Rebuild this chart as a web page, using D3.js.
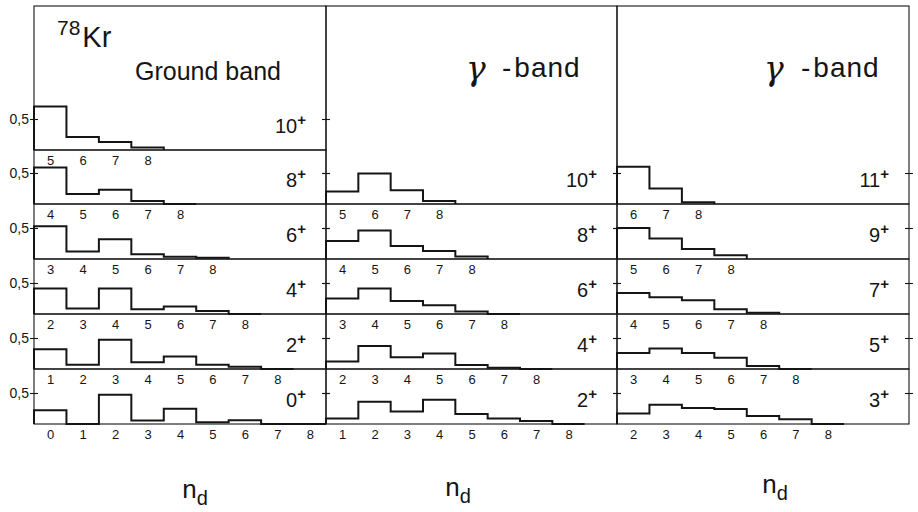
<!DOCTYPE html>
<html>
<head>
<meta charset="utf-8">
<script src="https://cdn.jsdelivr.net/npm/d3@7"></script>
<style>
  body { margin: 0; background: #fff; }
  svg { display: block; font-family: 'Liberation Sans', 'DejaVu Sans', sans-serif; }
</style>
</head>
<body>
<div class="svg-target"></div>
<script>
// Data: probability of n_d for each spin, first value belongs to n_d = start
const colTitles = ['Ground band', 'γ', 'γ'];

const groundSpins = [10, 8, 6, 4, 2, 0];
const groundStart = [5, 4, 3, 2, 1, 0];
const groundValues = [
    [0.70, 0.21, 0.13, 0.04],
    [0.59, 0.16, 0.23, 0.05, 0],
    [0.53, 0.12, 0.32, 0.075, 0.035, 0.02],
    [0.41, 0.09, 0.41, 0.075, 0.12, 0.05, 0],
    [0.32, 0.07, 0.47, 0.11, 0.20, 0.07, 0.035, 0],
    [0.22, 0, 0.47, 0.055, 0.245, 0.03, 0.06, 0, 0]
];

const gammaEvenSpins = [10, 8, 6, 4, 2];
const gammaEvenStart = [5, 4, 3, 2, 1];
const gammaEvenValues = [
    [0.20, 0.49, 0.22, 0.05],
    [0.29, 0.46, 0.21, 0.13, 0.04],
    [0.25, 0.41, 0.21, 0.14, 0.04, 0],
    [0.12, 0.37, 0.19, 0.25, 0.065, 0.02, 0],
    [0.09, 0.36, 0.20, 0.39, 0.16, 0.09, 0.05, 0]
];

const gammaOddSpins = [11, 9, 7, 5, 3];
const gammaOddStart = [6, 5, 4, 3, 2];
const gammaOddValues = [
    [0.60, 0.25, 0.03],
    [0.50, 0.33, 0.16, 0.06],
    [0.34, 0.27, 0.22, 0.075, 0.02],
    [0.26, 0.33, 0.26, 0.18, 0.05, 0],
    [0.17, 0.31, 0.26, 0.24, 0.13, 0.075, 0]
];

const ndMax = 8;
const yTick = 0.5;
const yTickLabel = '0,5';

// layout
const w = 918;
const h = 512;
const topY = 6;
const colEdges = [34, 326, 617, 909];
const rowBottoms = [150, 204, 259, 314, 369, 424];
const unitPx = 62;
const ink = '#151515';

const svg = d3.select('.svg-target')
    .append('svg')
    .attr('width', w)
    .attr('height', h);

const columns = [
    { spins: groundSpins, start: groundStart, values: groundValues, rows: [0, 1, 2, 3, 4, 5] },
    { spins: gammaEvenSpins, start: gammaEvenStart, values: gammaEvenValues, rows: [1, 2, 3, 4, 5] },
    { spins: gammaOddSpins, start: gammaOddStart, values: gammaOddValues, rows: [1, 2, 3, 4, 5] }
];

columns.forEach((col, c) => {
    const left = colEdges[c];
    const right = colEdges[c + 1];

    col.spins.forEach((spin, i) => {
        const r = col.rows[i];
        const bottom = rowBottoms[r];
        const panelTop = i === 0 ? topY : rowBottoms[r - 1];
        const start = col.start[i];
        const vals = col.values[i];

        const g = svg.append('g');

        // frame
        g.append('rect')
            .attr('x', left)
            .attr('y', panelTop)
            .attr('width', right - left)
            .attr('height', bottom - panelTop)
            .attr('fill', 'none')
            .attr('stroke', ink)
            .attr('stroke-width', 1.1);

        // 9 bins across the full panel width
        const xScale = d3.scaleLinear()
            .domain([start - 0.5, start + 8.5])
            .range([left, right]);

        const yScale = d3.scaleLinear()
            .domain([0, 1])
            .range([bottom, bottom - unitPx]);

        // histogram steps
        const pts = [[start - 0.5, 0]];
        vals.forEach((v, k) => {
            pts.push([start + k - 0.5, v]);
            pts.push([start + k + 0.5, v]);
        });
        pts.push([start + vals.length - 0.5, 0]);

        const line = d3.line()
            .x(d => xScale(d[0]))
            .y(d => yScale(d[1]));

        g.append('path')
            .attr('d', line(pts))
            .attr('fill', 'none')
            .attr('stroke', ink)
            .attr('stroke-width', 2)
            .attr('stroke-linejoin', 'miter');

        // crossing ticks at 0.5 on both edges
        [left, right].forEach(xe => {
            [d3.axisLeft, d3.axisRight].forEach(axFn => {
                const showLabel = c === 0 && xe === left && axFn === d3.axisLeft;
                const a = g.append('g')
                    .attr('transform', `translate(${xe}, 0)`)
                    .call(axFn(yScale).tickValues([yTick]).tickSize(4)
                        .tickFormat(() => showLabel ? yTickLabel : ''));
                a.select('.domain').remove();
                a.selectAll('line').attr('stroke', ink).attr('stroke-width', 1.1);
                a.selectAll('text')
                    .attr('font-size', 14)
                    .attr('font-family', null)
                    .attr('fill', ink)
                    .attr('x', -5)
                    .attr('dy', '0.3em');
            });
        });

        // n_d labels under the panel
        const xAxis = d3.axisBottom(xScale)
            .tickValues(d3.range(start, ndMax + 1))
            .tickSize(0)
            .tickPadding(6)
            .tickFormat(d3.format('d'));
        const ax = g.append('g')
            .attr('transform', `translate(0, ${bottom})`)
            .call(xAxis);
        ax.select('.domain').remove();
        ax.attr('font-family', null);
        ax.selectAll('text')
            .attr('font-size', 13)
            .attr('fill', ink);

        // spin label
        const lab = g.append('text')
            .attr('x', right - 20)
            .attr('y', bottom - 17)
            .attr('text-anchor', 'end')
            .attr('font-size', 20)
            .attr('fill', ink)
            .text(spin);
        lab.append('tspan')
            .attr('dy', -8)
            .attr('font-size', 15)
            .attr('font-weight', 'bold')
            .text('+');
    });
});

// titles
svg.append('text')
    .attr('x', 57)
    .attr('y', 47)
    .attr('fill', ink)
    .call(t => {
        t.append('tspan').attr('font-size', 21).attr('dy', -12).text('78');
        t.append('tspan').attr('font-size', 29).attr('dy', 12).attr('dx', 2).text('Kr');
    });

svg.append('text')
    .attr('x', 135)
    .attr('y', 80)
    .attr('font-size', 25)
    .attr('fill', ink)
    .text(colTitles[0]);

[[466, 502], [764, 801]].forEach((p, i) => {
    svg.append('text')
        .attr('x', p[0])
        .attr('y', 80)
        .attr('font-size', 33)
        .attr('font-style', 'italic')
        .attr('font-family', 'DejaVu Serif, serif')
        .attr('fill', ink)
        .text(colTitles[i + 1]);
    const t = svg.append('text')
        .attr('x', p[1])
        .attr('y', 77)
        .attr('font-size', 28)
        .attr('fill', ink);
    t.append('tspan').text('-');
    t.append('tspan').attr('dx', 3).attr('letter-spacing', 1).text('band');
});

// x titles
[[195, 498], [458, 496], [775, 493]].forEach(p => {
    const t = svg.append('text')
        .attr('x', p[0])
        .attr('y', p[1])
        .attr('text-anchor', 'middle')
        .attr('font-size', 26)
        .attr('fill', ink);
    t.append('tspan').text('n');
    t.append('tspan').attr('font-size', 20).attr('dy', 7).text('d');
});
</script>
</body>
</html>
